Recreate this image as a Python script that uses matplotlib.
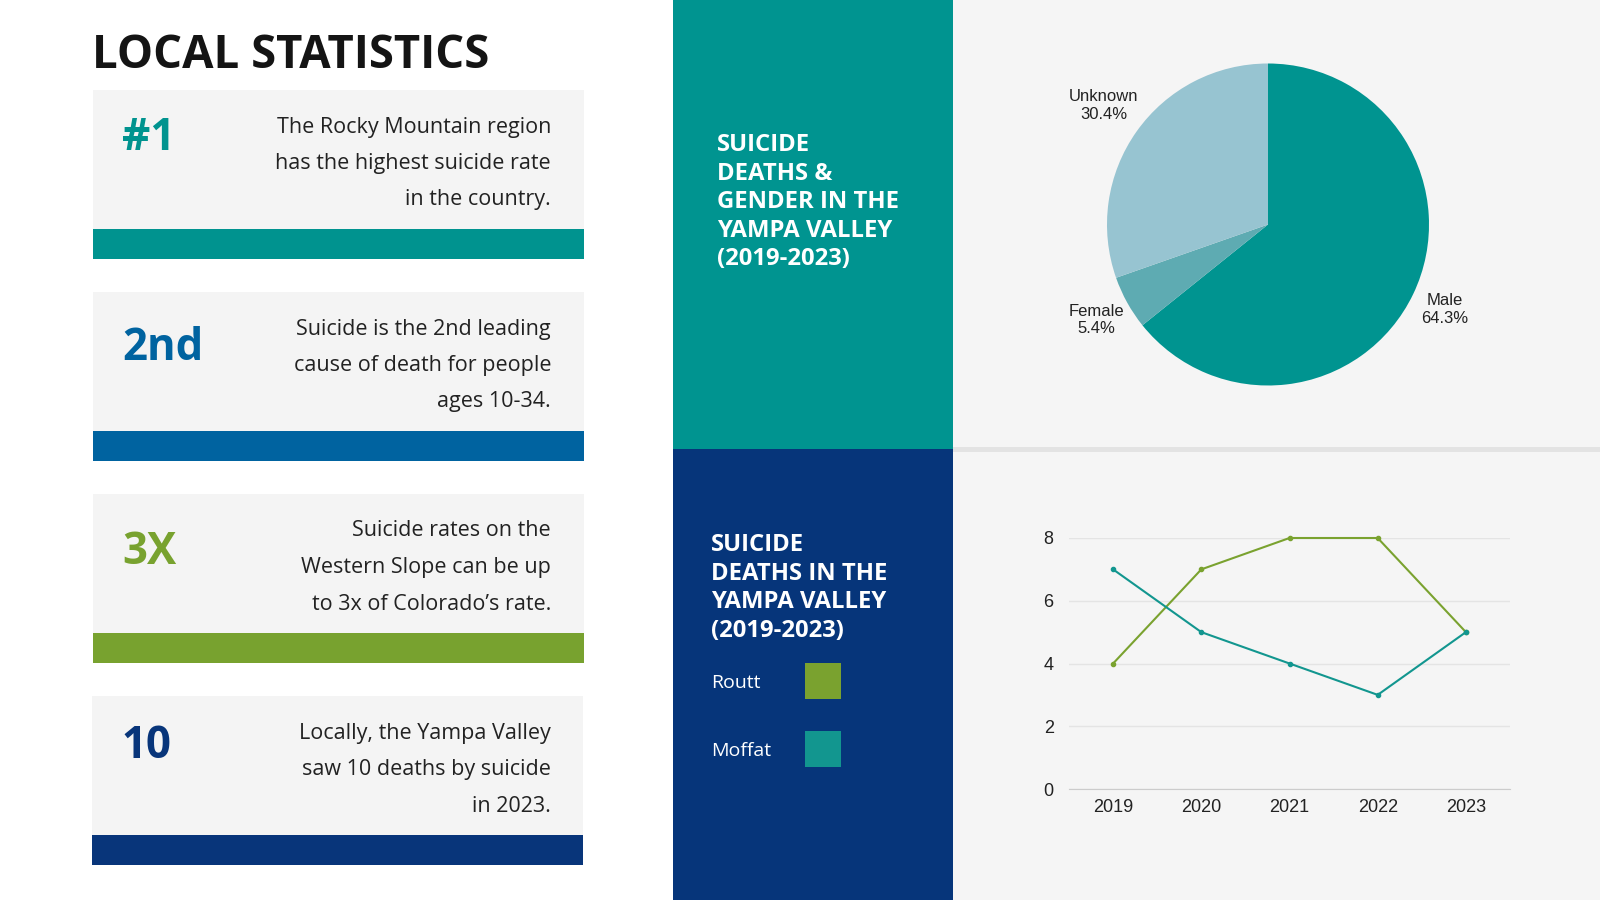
import matplotlib
matplotlib.use("Agg")
import matplotlib.pyplot as plt
from matplotlib.patches import Rectangle

# ---------------- data ----------------
stat_big = ["#1", "2nd", "3X", "10"]
stat_text = [
    "The Rocky Mountain region\nhas the highest suicide rate\nin the country.",
    "Suicide is the 2nd leading\ncause of death for people\nages 10-34.",
    "Suicide rates on the\nWestern Slope can be up\nto 3x of Colorado\u2019s rate.",
    "Locally, the Yampa Valley\nsaw 10 deaths by suicide\nin 2023.",
]
stat_colors = ["#00938f", "#0063a0", "#78a22f", "#08357a"]

gender_labels = ["Male", "Female", "Unknown"]
gender_pct = [64.3, 5.4, 30.4]
gender_colors = ["#009490", "#5eabb2", "#97c4d1"]

years = ["2019", "2020", "2021", "2022", "2023"]
routt = [4, 7, 8, 8, 5]
moffat = [7, 5, 4, 3, 5]
routt_color = "#7aa22f"
moffat_color = "#12968f"

W, H = 1600, 900
fig = plt.figure(figsize=(16, 9), dpi=100)
fig.patch.set_facecolor("white")

bg = fig.add_axes([0, 0, 1, 1])
bg.set_xlim(0, W)
bg.set_ylim(H, 0)
bg.axis("off")

# right light area
bg.add_patch(Rectangle((953, 0), W - 953, H, color="#f5f5f5", lw=0))
bg.add_patch(Rectangle((953, 447), W - 953, 5, color="#e3e3e3", lw=0))
# panels
bg.add_patch(Rectangle((673, 0), 280, 449, color="#009490", lw=0))
bg.add_patch(Rectangle((673, 449), 280, H - 449, color="#06357a", lw=0))

# title
bg.text(92, 56, "LOCAL STATISTICS", fontsize=32.8, fontweight="bold",
        family="Open Sans", color="#141414", ha="left", va="center")

card_tops = [90, 292, 494, 696]
big_offsets = [48, 57, 58, 50]
for i, top in enumerate(card_tops):
    x0 = 93 if i < 3 else 92
    bg.add_patch(Rectangle((x0, top), 491, 139, color="#f4f4f4", lw=0))
    bg.add_patch(Rectangle((x0, top + 139), 491, 30, color=stat_colors[i], lw=0))
    bg.text(x0 + 29, top + big_offsets[i], stat_big[i], fontsize=31.5,
            fontweight="bold", family="Open Sans", color=stat_colors[i],
            ha="left", va="center")
    lines = stat_text[i].split("\n")
    for j, ln in enumerate(lines):
        bg.text(551, top + 37 + j * 36.5, ln, fontsize=15.5, family="Open Sans",
                color="#222222", ha="right", va="center")

# panel texts
pie_title = ["SUICIDE", "DEATHS &", "GENDER IN THE", "YAMPA VALLEY", "(2019-2023)"]
for j, ln in enumerate(pie_title):
    bg.text(717, 145 + j * 28.6, ln, fontsize=17.2, fontweight="bold",
            family="Open Sans", color="white", ha="left", va="center")
line_title = ["SUICIDE", "DEATHS IN THE", "YAMPA VALLEY", "(2019-2023)"]
for j, ln in enumerate(line_title):
    bg.text(711, 545 + j * 28.6, ln, fontsize=17.2, fontweight="bold",
            family="Open Sans", color="white", ha="left", va="center")

# legend
for name, col, yc in [("Routt", routt_color, 681), ("Moffat", moffat_color, 749)]:
    bg.text(711, yc + 2, name, fontsize=14, family="Open Sans", color="white",
            ha="left", va="center")
    bg.add_patch(Rectangle((805, yc - 18), 36, 36, color=col, lw=0))

# ---------------- pie ----------------
cx, cy, r = 1268, 224.5, 161
pax = fig.add_axes([(cx - r) / W, 1 - (cy + r) / H, 2 * r / W, 2 * r / H])
labels = [f"{n}\n{p:.1f}%" for n, p in zip(gender_labels, gender_pct)]
wedges, texts = pax.pie(gender_pct, colors=gender_colors, startangle=90,
                        counterclock=False, labels=labels, labeldistance=1.22,
                        textprops=dict(ha="center", va="center", fontsize=12,
                                       family="Liberation Sans", color="#222222",
                                       multialignment="center"))
texts[2].set_position((-1.02, 0.74))
pax.set_xlim(-1, 1)
pax.set_ylim(-1, 1)
pax.set_aspect("equal")
pax.axis("off")

# ---------------- line chart ----------------
lax = fig.add_axes([1069 / W, 1 - 789 / H, 441 / W, 251 / H])
lax.set_facecolor("none")
x = list(range(len(years)))
lax.plot(x, routt, color=routt_color, lw=1.5, marker="o", ms=3, clip_on=False, zorder=3)
lax.plot(x, moffat, color=moffat_color, lw=1.5, marker="o", ms=3, clip_on=False, zorder=3)
lax.set_xlim(-0.5, 4.5)
lax.set_ylim(0, 8)
lax.set_xticks(x)
lax.set_xticklabels(years)
lax.set_yticks([0, 2, 4, 6, 8])
lax.grid(axis="y", color="#e4e4e4", lw=1)
lax.set_axisbelow(True)
for s in ["top", "right", "left"]:
    lax.spines[s].set_visible(False)
lax.spines["bottom"].set_color("#cccccc")
lax.tick_params(length=0, labelsize=13, colors="#222222")
lax.tick_params(axis="y", pad=11)
lax.tick_params(axis="x", pad=7)
for t in lax.get_xticklabels() + lax.get_yticklabels():
    t.set_family("Liberation Sans")

fig.savefig("out.png", dpi=100)
